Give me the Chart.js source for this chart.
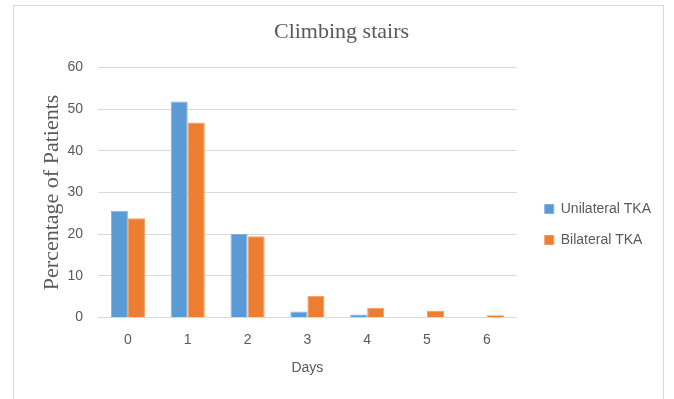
<!DOCTYPE html>
<html>
<head>
<meta charset="utf-8">
<script src="https://cdn.jsdelivr.net/npm/chart.js@4"></script>
<style>
  html, body { margin: 0; padding: 0; background: #fff; overflow: hidden; }
  #wrap { position: relative; width: 674px; height: 399px; }
  #frame { position: absolute; left: 13px; top: 5px; width: 649px; height: 400px; border: 1px solid #d9d9d9; }
  canvas { position: absolute; left: 0; top: 0; }
</style>
</head>
<body>
<div id="wrap">
  <div id="frame"></div>
  <canvas id="chart" width="674" height="399"></canvas>
</div>
<script>
// climbing stairs
const days = ['0', '1', '2', '3', '4', '5', '6'];
const unilateral = [25.6, 51.8, 20.0, 1.4, 0.7, 0, 0];
const bilateral = [23.8, 46.8, 19.5, 5.2, 2.3, 1.6, 0.5];
const yTicks = [0, 10, 20, 30, 40, 50, 60];

const tickFont = { family: 'Liberation Sans', size: 14 };
const textGray = '#595959';

// nudge the legend to where Excel put it
const legendShift = {
  id: 'legendShift',
  afterLayout: chart => {
    const lg = chart.legend;
    lg.left += 11;
    lg.right += 11;
    lg.top += 36;
    lg.bottom += 36;
  },
};

var ctx = document.getElementById('chart').getContext('2d');
var chart = new Chart(ctx, {
  type: 'bar',
  data: {
    labels: days,
    datasets: [
      {
        label: 'Unilateral TKA',
        data: unilateral,
        backgroundColor: '#5B9BD5',
        borderColor: '#7FB1DF',
        borderWidth: 1,
      },
      {
        label: 'Bilateral TKA',
        data: bilateral,
        backgroundColor: '#ED7D31',
        borderColor: '#F19A5E',
        borderWidth: 1,
      },
    ],
  },
  plugins: [legendShift],
  options: {
    responsive: false,
    animation: false,
    layout: {
      padding: { left: 33, right: 24, top: 0, bottom: 22 },
    },
    datasets: {
      bar: {
        barPercentage: 1,
        categoryPercentage: 0.57,
      },
    },
    scales: {
      x: {
        grid: { display: false, drawTicks: false },
        border: { color: '#d9d9d9', width: 1 },
        ticks: { font: tickFont, color: textGray, padding: 14 },
        title: {
          display: true,
          text: 'Days',
          font: tickFont,
          color: textGray,
          padding: { top: -2, bottom: 0 },
        },
      },
      y: {
        min: 0,
        max: 60,
        afterBuildTicks: scale => {
          scale.ticks = yTicks.map(v => ({ value: v }));
        },
        afterFit: scale => {
          scale.width = 65;
        },
        grid: { color: '#d9d9d9', drawTicks: false },
        border: { display: false },
        ticks: { font: tickFont, color: textGray, padding: 15 },
        title: {
          display: true,
          text: 'Percentage of Patients',
          font: { family: 'Liberation Serif', size: 22 },
          color: textGray,
          padding: { top: 6, bottom: 0 },
        },
      },
    },
    plugins: {
      title: {
        display: true,
        text: 'Climbing stairs',
        font: { family: 'Liberation Serif', size: 22, weight: 'normal' },
        color: textGray,
        padding: { top: 19, bottom: 22 },
      },
      legend: {
        position: 'right',
        onClick: (e, legendItem, legend) => {},
        labels: {
          boxWidth: 9,
          boxHeight: 9,
          padding: 17,
          font: tickFont,
          color: textGray,
        },
      },
      tooltip: { enabled: false },
    },
  },
});
</script>
</body>
</html>
